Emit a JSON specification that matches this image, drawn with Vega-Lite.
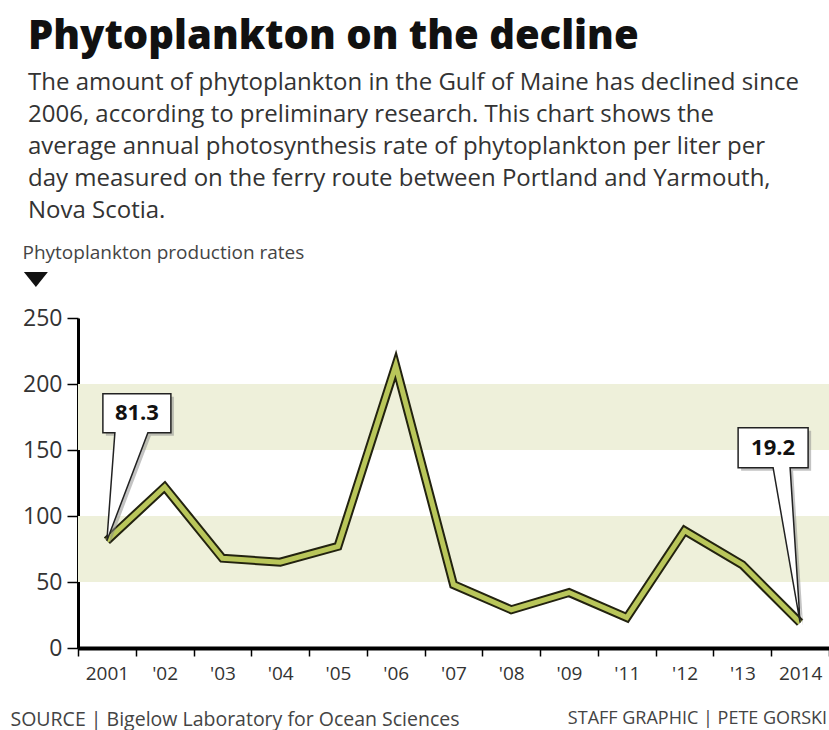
{
  "$schema": "https://vega.github.io/schema/vega-lite/v6.json",
  "width": 751,
  "height": 330,
  "autosize": "none",
  "padding": {"left": 78, "top": 318, "right": 0, "bottom": 82},
  "background": "white",
  "config": {
    "view": {"stroke": null},
    "font": "Open Sans",
    "axisY": {
      "grid": false,
      "domainColor": "#000000",
      "domainWidth": 3,
      "tickColor": "#000000",
      "tickWidth": 1.5,
      "tickSize": 11,
      "labelFontSize": 23,
      "labelColor": "#333333",
      "labelPadding": 5
    },
    "axisX": {
      "labelAngle": 0,
      "labelFontSize": 19,
      "labelColor": "#333333",
      "labelPadding": 8,
      "domainColor": "#000000",
      "domainWidth": 4,
      "tickColor": "#000000",
      "tickWidth": 1.5,
      "tickSize": 8,
      "tickBand": "extent"
    }
  },
  "title": {
    "text": "Phytoplankton on the decline",
    "subtitle": [
      "The amount of phytoplankton in the Gulf of Maine has declined since",
      "2006, according to preliminary research. This chart shows the",
      "average annual photosynthesis rate of phytoplankton per liter per",
      "day measured on the ferry route between Portland and Yarmouth,",
      "Nova Scotia."
    ],
    "anchor": "start",
    "frame": "group",
    "dx": -50,
    "font": "Open Sans",
    "fontSize": 40,
    "fontWeight": 800,
    "color": "#111111",
    "subtitleFont": "Open Sans",
    "subtitleFontSize": 24,
    "subtitleColor": "#333333",
    "subtitleLineHeight": 32,
    "subtitlePadding": 14,
    "offset": 20
  },
  "datasets": {
    "rates": [
      {"year": "2001", "value": 81.3},
      {"year": "'02", "value": 122},
      {"year": "'03", "value": 68},
      {"year": "'04", "value": 65},
      {"year": "'05", "value": 77},
      {"year": "'06", "value": 214},
      {"year": "'07", "value": 48},
      {"year": "'08", "value": 29},
      {"year": "'09", "value": 42},
      {"year": "'11", "value": 23},
      {"year": "'12", "value": 89},
      {"year": "'13", "value": 63},
      {"year": "2014", "value": 19.2}
    ],
    "bands": [
      {"lo": 50, "hi": 100},
      {"lo": 150, "hi": 200}
    ],
    "notes": [
      {"year": "2014", "level": 0, "label": "STAFF GRAPHIC | PETE GORSKI"}
    ],
    "marker": [
      {"year": "2001", "level": 279.5}
    ]
  },
  "encoding": {
    "x": {
      "field": "year",
      "type": "nominal",
      "sort": null,
      "scale": {"type": "band", "paddingInner": 0, "paddingOuter": 0},
      "axis": {
        "labelAngle": 0,
        "labelFontSize": 19,
        "tickBand": "extent",
        "title": "SOURCE | Bigelow Laboratory for Ocean Sciences",
        "titleAnchor": "start",
        "titleAlign": "left",
        "titleX": -68,
        "titleY": 71,
        "titleBaseline": "middle",
        "titleFontSize": 19.5,
        "titleFontWeight": "normal",
        "titleColor": "#444444"
      }
    },
    "y": {
      "field": "value",
      "type": "quantitative",
      "scale": {"domain": [0, 250], "nice": false},
      "axis": {
        "values": [0, 50, 100, 150, 200, 250],
        "labelFontSize": 23,
        "title": "Phytoplankton production rates",
        "titleAngle": 0,
        "titleAlign": "left",
        "titleBaseline": "middle",
        "titleX": -56,
        "titleY": -66,
        "titleFontSize": 19,
        "titleFontWeight": "normal",
        "titleColor": "#444444"
      }
    }
  },
  "layer": [
    {
      "data": {"name": "bands"},
      "mark": {"type": "rect", "color": "#eef0da"},
      "encoding": {
        "x": null,
        "y": {"field": "lo", "type": "quantitative"},
        "y2": {"field": "hi"}
      }
    },
    {
      "data": {"name": "rates"},
      "mark": {"type": "line", "color": "#22220f", "strokeWidth": 9, "strokeJoin": "miter"}
    },
    {
      "data": {"name": "rates"},
      "mark": {"type": "line", "color": "#b9c65a", "strokeWidth": 5, "strokeJoin": "miter"}
    },
    {
      "data": {"name": "rates"},
      "transform": [{"filter": "datum.year == '2001'"}],
      "mark": {"type": "point", "shape": "M0,0 L8,-108 L-4,-108 L-4,-147 L64,-147 L64,-108 L41,-108 Z", "size": 4, "filled": true, "color": "#888888", "opacity": 0.5, "strokeWidth": 0, "xOffset": 3, "yOffset": 3}
    },
    {
      "data": {"name": "rates"},
      "transform": [{"filter": "datum.year == '2001'"}],
      "mark": {"type": "point", "shape": "M0,0 L8,-108 L-4,-108 L-4,-147 L64,-147 L64,-108 L41,-108 Z", "size": 4, "filled": true, "fill": "#ffffff", "stroke": "#222222", "strokeWidth": 1.5, "opacity": 1}
    },
    {
      "data": {"name": "rates"},
      "transform": [{"filter": "datum.year == '2001'"}],
      "mark": {"type": "text", "fontSize": 22, "fontWeight": "bold", "color": "#111111", "dx": 30, "dy": -128, "baseline": "middle", "align": "center"},
      "encoding": {"text": {"field": "value", "type": "quantitative", "format": ".1f"}}
    },
    {
      "data": {"name": "rates"},
      "transform": [{"filter": "datum.year == '2014'"}],
      "mark": {"type": "point", "shape": "M0,0 L-10,-155 L8,-155 L8,-195 L-62,-195 L-62,-155 L-27,-155 Z", "size": 4, "filled": true, "color": "#888888", "opacity": 0.5, "strokeWidth": 0, "xOffset": 3, "yOffset": 3}
    },
    {
      "data": {"name": "rates"},
      "transform": [{"filter": "datum.year == '2014'"}],
      "mark": {"type": "point", "shape": "M0,0 L-10,-155 L8,-155 L8,-195 L-62,-195 L-62,-155 L-27,-155 Z", "size": 4, "filled": true, "fill": "#ffffff", "stroke": "#222222", "strokeWidth": 1.5, "opacity": 1}
    },
    {
      "data": {"name": "rates"},
      "transform": [{"filter": "datum.year == '2014'"}],
      "mark": {"type": "text", "fontSize": 22, "fontWeight": "bold", "color": "#111111", "dx": -27, "dy": -175, "baseline": "middle", "align": "center"},
      "encoding": {"text": {"field": "value", "type": "quantitative", "format": ".1f"}}
    },
    {
      "data": {"name": "marker"},
      "mark": {"type": "point", "shape": "M-12,-7 L12,-7 L0,8 Z", "size": 4, "filled": true, "color": "#111111", "opacity": 1, "xOffset": -71},
      "encoding": {
        "x": {"field": "year", "type": "nominal"},
        "y": {"field": "level", "type": "quantitative"}
      }
    },
    {
      "data": {"name": "notes"},
      "mark": {"type": "text", "fontSize": 18, "color": "#444444", "align": "right", "baseline": "middle", "xOffset": 27, "yOffset": 71},
      "encoding": {
        "x": {"field": "year", "type": "nominal"},
        "y": {"field": "level", "type": "quantitative"},
        "text": {"field": "label", "type": "nominal"}
      }
    }
  ]
}
